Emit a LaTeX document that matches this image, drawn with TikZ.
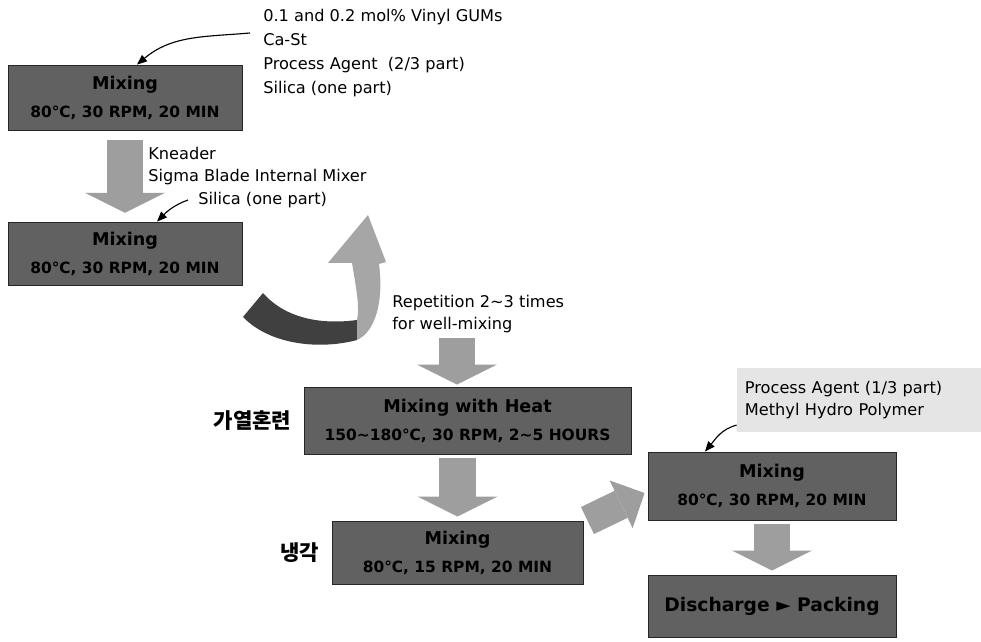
\documentclass[tikz,border=0pt]{standalone}
\usepackage{fontspec}
\setmainfont{DejaVu Sans}
\newfontfamily\krfont{Noto Sans CJK KR}
\usetikzlibrary{positioning,arrows.meta}
\newcommand\headtxt{\fontsize{12.5}{15}\selectfont}

\begin{document}
\begin{tikzpicture}[
  x=0.025cm, y=0.025cm,
  node distance    = 0.30cm,
  every node/.style = {font=\fontsize{11.5}{16}\selectfont},
  %% box styles
  pbox/.style  = {rectangle, draw=black!85, fill=black!62, line width=0.6pt,
                  align=center, inner sep=0pt,
                  font=\bfseries\fontsize{11}{13}\selectfont},
  note/.style  = {inner sep=0pt, align=left, anchor=west},
  kor/.style   = {inner sep=0pt, font=\krfont\bfseries\fontsize{15}{18}\selectfont},
  %% arrows
  fat/.style   = {draw=black!38, line width=0.9cm,
                  -{Triangle[length=0.5cm, width=2cm, line width=0pt]},
                  shorten <=0.1cm, shorten >=0.1cm},
  fatd/.style  = {draw=black!38, line width=0.75cm,
                  -{Triangle[length=0.65cm, width=1.325cm, line width=0pt]}},
  sarr/.style  = {-{Triangle[length=0.25cm, width=0.2cm]}, line width=0.8pt}
]
\useasboundingbox (0,0) rectangle (981,642);

%% ---- Process boxes ----
\node[pbox, minimum width=5.85cm, minimum height=1.625cm] (B1) at (125,544.5)
  {{\headtxt Mixing}\\[7pt]80℃, 30 RPM, 20 MIN};
\node[pbox, minimum width=5.85cm, minimum height=1.575cm] (B2) at (125,388.5)
  {{\headtxt Mixing}\\[7pt]80℃, 30 RPM, 20 MIN};
\node[pbox, minimum width=8.175cm, minimum height=1.675cm] (B3) at (467.5,221.5)
  {{\headtxt Mixing with Heat}\\[7pt]150\textasciitilde180℃, 30 RPM, 2\textasciitilde5 HOURS};
\node[pbox, minimum width=6.275cm, minimum height=1.575cm] (B4) at (457.5,89.5)
  {{\headtxt Mixing}\\[7pt]80℃, 15 RPM, 20 MIN};
\node[pbox, minimum width=6.2cm, minimum height=1.7cm] (B5) at (772,156)
  {{\headtxt Mixing}\\[7pt]80℃, 30 RPM, 20 MIN};
\node[pbox, minimum width=6.2cm, minimum height=1.55cm,
      font=\bfseries\fontsize{13.3}{16}\selectfont] (B6) at (772,36)
  {Discharge ► Packing};

%% ---- Side notes ----
\node[note, font=\fontsize{11.5}{17}\selectfont] (TOP) at (263,589)
  {0.1 and 0.2 mol\% Vinyl GUMs\\Ca-St\\Process Agent\ \ (2/3 part)\\Silica (one part)};
\node[note] (KNE) at (148,476) {Kneader\\Sigma Blade Internal Mixer};
\node[note] (SIL) at (198,442) {Silica (one part)};
\node[note] (REP) at (392,328) {Repetition 2\textasciitilde3 times\\for well-mixing};
\node[fill=black!10, minimum width=6.1cm, minimum height=1.6cm, text width=5.7cm,
      inner xsep=0.2cm, align=left] (PA) at (859,242)
  {Process Agent (1/3 part)\\Methyl Hydro Polymer};

\node[kor, left=of B3] (HEAT) {가열혼련};
\node[kor, left=of B4] (COOL) {냉각};

%% ---- Block arrows ----
\coordinate (REPA) at (457,304);
\draw[fat, shorten <=0.25cm, shorten >=0.22cm] (B1) -- (B2);
\draw[fat, shorten <=0pt, shorten >=0.05cm] (REPA) -- (REPA |- B3.north);
\draw[fat] (B4.north |- B3.south) -- (B4.north);
\draw[fat] (B5) -- (B6);
\draw[fatd] ([xshift=0.1cm]B4.north east) -- ([shift={(-0.075cm,-0.175cm)}]B5.west);

%% ---- Repetition loop ----
\fill[black!75] (243,325) .. controls (270,297) and (320,292) .. (357,302)
  -- (357,322) .. controls (320,317) and (285,324) .. (263,349) -- cycle;
\fill[black!35] (357,302) .. controls (375,310) and (384,340) .. (379,378)
  -- (386,380) -- (368,427) -- (328,379) -- (352,379)
  .. controls (356,355) and (360,335) .. (357,322) -- cycle;

%% ---- Feed arrows ----
\draw[sarr] ([shift={(-0.325cm,0.5cm)}]TOP.west) to[out=185, in=40] ([xshift=0.3cm]B1.north);
\draw[sarr] ([xshift=-0.25cm]SIL.west) to[out=200, in=45] ([xshift=0.8cm]B2.north);
\draw[sarr] ([yshift=0.18cm]PA.south west) to[out=195, in=50] ([xshift=-1.675cm]B5.north);

\end{tikzpicture}
\end{document}
